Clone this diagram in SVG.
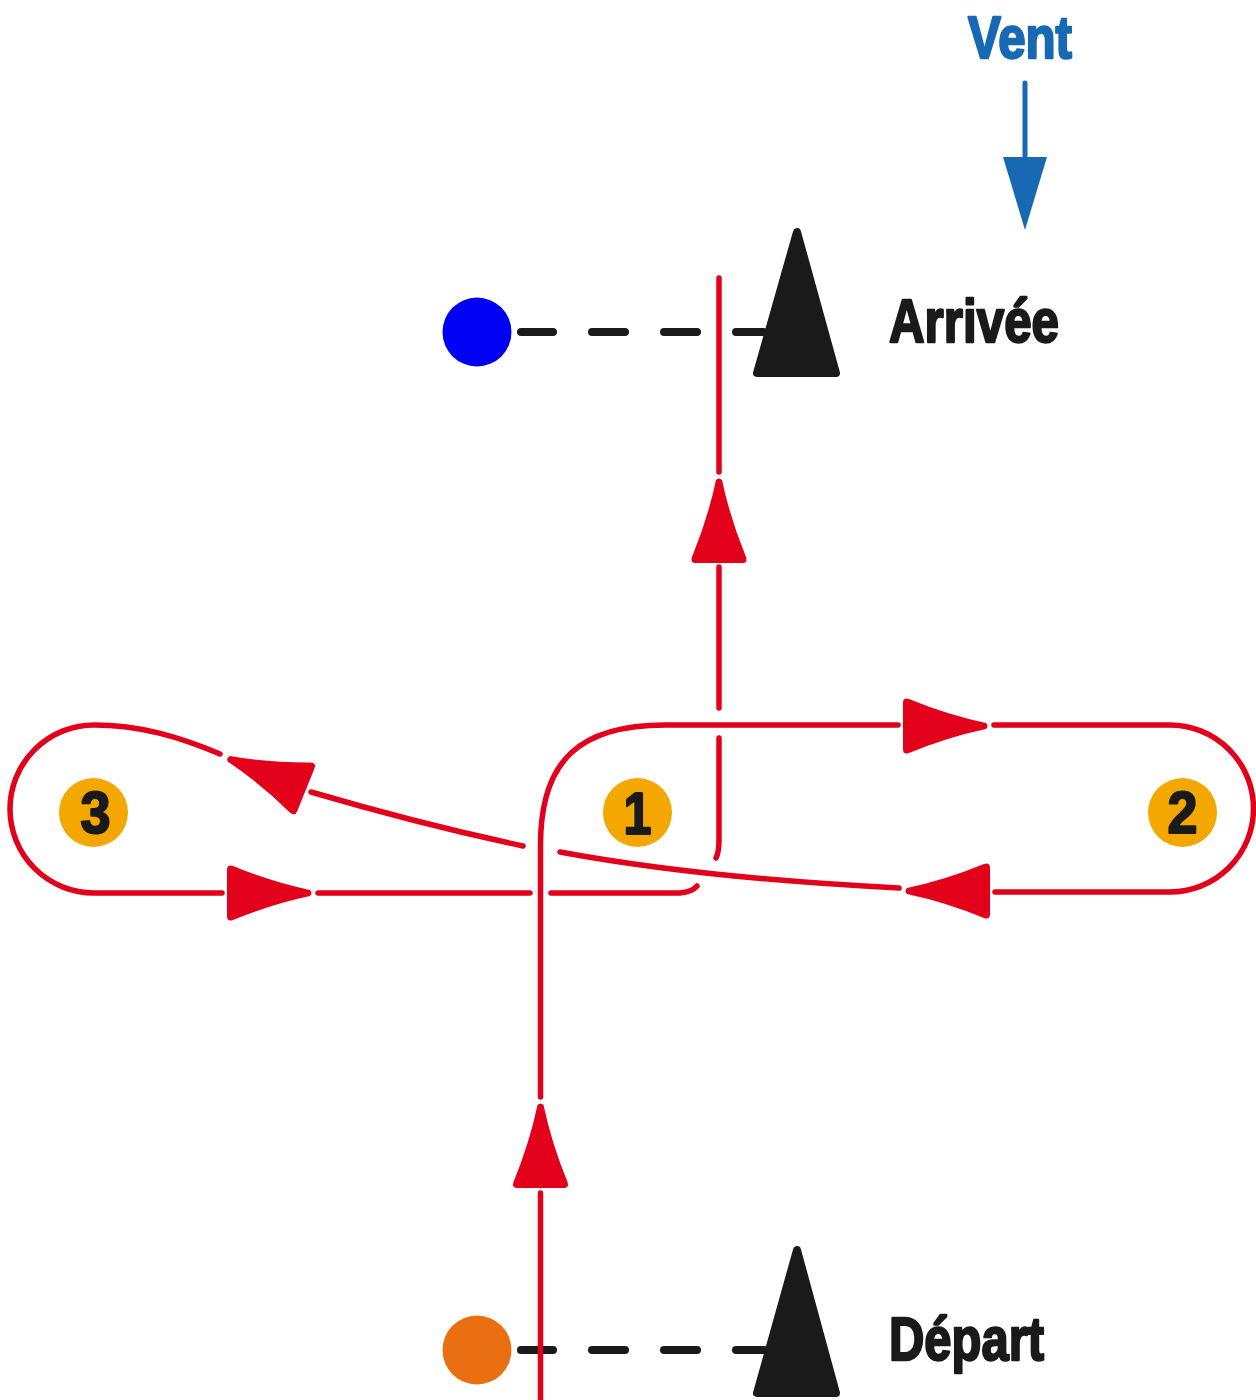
<svg xmlns="http://www.w3.org/2000/svg" xmlns:xlink="http://www.w3.org/1999/xlink" width="1256" height="1400" viewBox="0 0 1256 1400">
  <style>
    .route { fill: none; stroke: #E2001A; stroke-width: 5.5; stroke-linecap: round; stroke-linejoin: round; }
    .dash { fill: none; stroke: #1a1a1a; stroke-width: 8; stroke-linecap: round; }
    .mark { fill: #1a1a1a; stroke: #1a1a1a; stroke-width: 8; stroke-linejoin: round; }
    .buoy { fill: #F4A700; }
    .num { font-family: "Liberation Sans", Arial, sans-serif; font-weight: bold; font-size: 60px; fill: #1a1a1a; stroke: #1a1a1a; stroke-width: 2.2; stroke-linejoin: round; text-anchor: middle; }
    .label { font-family: "Liberation Sans", Arial, sans-serif; font-weight: bold; font-size: 62px; fill: #1a1a1a; stroke: #1a1a1a; stroke-width: 2.4; stroke-linejoin: round; }
    .wind { fill: #1769B3; }
    .windtext { font-family: "Liberation Sans", Arial, sans-serif; font-weight: bold; font-size: 59px; fill: #1769B3; stroke: #1769B3; stroke-width: 2.4; stroke-linejoin: round; }
  </style>
  <defs>
    <path id="ah" fill="#E2001A" d="M -2 -3 Q -40 -11 -79 -27 Q -85 -29 -85 -23 L -85 23 Q -85 29 -79 27 Q -40 11 -2 3 Q 1 0 -2 -3 Z"/>
  </defs>
  <rect width="1256" height="1400" fill="#ffffff"/>

  <g id="wind">
    <text class="windtext" x="968" y="58" textLength="104" lengthAdjust="spacingAndGlyphs">Vent</text>
    <line x1="1025" y1="83" x2="1025" y2="162" stroke="#1769B3" stroke-width="5" stroke-linecap="round"/>
    <polygon class="wind" points="1003,157 1047,157 1025,230"/>
  </g>

  <g id="finish-line">
    <line class="dash" x1="521" y1="332" x2="553" y2="332"/>
    <line class="dash" x1="592" y1="332" x2="625" y2="332"/>
    <line class="dash" x1="664" y1="332" x2="697" y2="332"/>
    <line class="dash" x1="736" y1="332" x2="764" y2="332"/>
  </g>
  <g id="start-line">
    <line class="dash" x1="521" y1="1350" x2="553" y2="1350"/>
    <line class="dash" x1="592" y1="1350" x2="625" y2="1350"/>
    <line class="dash" x1="664" y1="1350" x2="697" y2="1350"/>
    <line class="dash" x1="736" y1="1350" x2="764" y2="1350"/>
  </g>

  <g id="finish-buoy"><circle cx="477" cy="332" r="34.5" fill="#0000F2"/></g>
  <g id="start-buoy"><circle cx="477" cy="1350" r="34.5" fill="#EA6F10"/></g>

  <g id="mark-arrivee">
    <polygon class="mark" points="797,232 757,373 836,373"/>
    <text class="label" x="889" y="342" textLength="170" lengthAdjust="spacingAndGlyphs">Arrivée</text>
  </g>
  <g id="mark-depart">
    <polygon class="mark" points="797,1250 757,1393 836,1393"/>
    <text class="label" x="889" y="1360" textLength="155" lengthAdjust="spacingAndGlyphs">Départ</text>
  </g>

  <g id="buoy-1">
    <circle class="buoy" cx="637.5" cy="812.5" r="34.5"/>
    <text class="num" x="637.5" y="834" textLength="28" lengthAdjust="spacingAndGlyphs">1</text>
  </g>
  <g id="buoy-2">
    <circle class="buoy" cx="1182.5" cy="812.5" r="34.5"/>
    <text class="num" x="1182.5" y="833" textLength="30" lengthAdjust="spacingAndGlyphs">2</text>
  </g>
  <g id="buoy-3">
    <circle class="buoy" cx="93.5" cy="812.5" r="34.5"/>
    <text class="num" x="95.5" y="833" textLength="30" lengthAdjust="spacingAndGlyphs">3</text>
  </g>

  <g id="connectors">
    <path class="route" d="M 540.5 1400 V 1193"/>
    <path class="route" d="M 540.5 1097 V 845 C 540.5 760 580 725 665 725 H 898"/>
    <path class="route" d="M 994 725 H 1170 A 83.5 83.5 0 0 1 1170 892 H 995"/>
    <path class="route" d="M 899 888 Q 700 878 560 852"/>
    <path class="route" d="M 523 846 Q 420 824 311 792"/>
    <path class="route" d="M 220 754 C 180 737 140 725 94 725 A 84 84 0 0 0 94 893 H 222"/>
    <path class="route" d="M 318 893 H 530"/>
    <path class="route" d="M 551 893 H 680 Q 692 892 697 886"/>
    <path class="route" d="M 716 858 Q 719 852 719 840 V 738"/>
    <path class="route" d="M 719 708 V 567"/>
    <path class="route" d="M 719 472 V 278"/>
    <use xlink:href="#ah" href="#ah" transform="translate(540.5 1103) rotate(-90)"/>
    <use xlink:href="#ah" href="#ah" transform="translate(988 726)"/>
    <use xlink:href="#ah" href="#ah" transform="translate(905 891) rotate(180)"/>
    <use xlink:href="#ah" href="#ah" transform="translate(227 758) rotate(202)"/>
    <use xlink:href="#ah" href="#ah" transform="translate(312 893)"/>
    <use xlink:href="#ah" href="#ah" transform="translate(719 478) rotate(-90)"/>
  </g>
</svg>
